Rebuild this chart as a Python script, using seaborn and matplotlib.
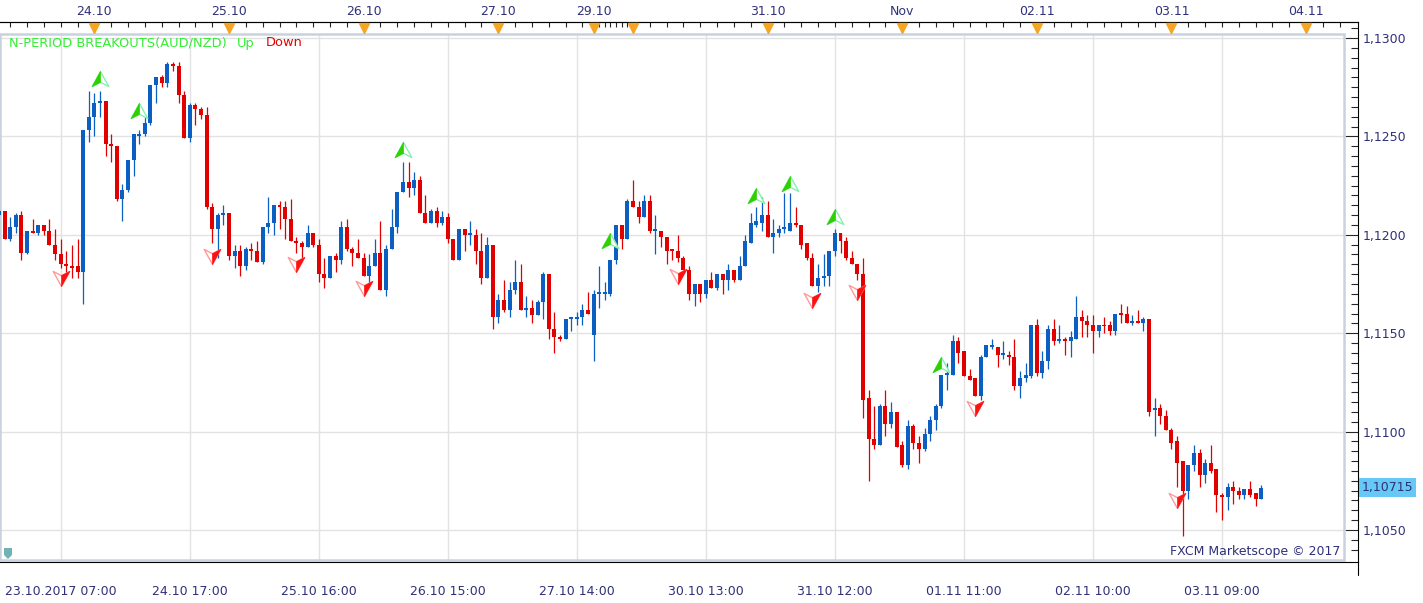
import numpy as np
import pandas as pd
import matplotlib.pyplot as plt
import seaborn as sns
from matplotlib.path import Path
from matplotlib.patches import Rectangle, Polygon
from matplotlib.lines import Line2D
from matplotlib.ticker import FixedLocator
from matplotlib.transforms import blended_transform_factory

sns.set_style('white')
plt.rcParams['font.family'] = ['DejaVu Sans']

# AUD/NZD hourly candles (index 0 = leftmost bar)
opens = [
    1.1210, 1.1212, 1.1198, 1.1204, 1.1210, 1.1191, 1.1202, 1.1201, 1.1205, 1.1202,
    1.1195, 1.1190, 1.1185, 1.1184, 1.1184, 1.1181, 1.1253, 1.1260, 1.1267, 1.1268,
    1.1246, 1.1245, 1.1218, 1.1223, 1.1238, 1.1250, 1.1251, 1.1257, 1.1276, 1.1280,
    1.1277, 1.1287, 1.1286, 1.1271, 1.1249, 1.1266, 1.1264, 1.1261, 1.1214, 1.1203,
    1.1210, 1.1211, 1.1189, 1.1192, 1.1184, 1.1193, 1.1192, 1.1186, 1.1204, 1.1206,
    1.1215, 1.1214, 1.1208, 1.1197, 1.1196, 1.1194, 1.1201, 1.1195, 1.1180, 1.1178,
    1.1189, 1.1187, 1.1204, 1.1193, 1.1191, 1.1188, 1.1179, 1.1184, 1.1191, 1.1172,
    1.1193, 1.1204, 1.1222, 1.1227, 1.1224, 1.1228, 1.1211, 1.1206, 1.1212, 1.1206,
    1.1209, 1.1198, 1.1187, 1.1203, 1.1200, 1.1200, 1.1192, 1.1178, 1.1195, 1.1158,
    1.1167, 1.1162, 1.1172, 1.1176, 1.1162, 1.1163, 1.1159, 1.1166, 1.1180, 1.1152,
    1.1148, 1.1147, 1.1157, 1.1157, 1.1158, 1.1162, 1.1149, 1.1170, 1.1170, 1.1170,
    1.1187, 1.1205, 1.1198, 1.1217, 1.1214, 1.1209, 1.1217, 1.1202, 1.1202, 1.1199,
    1.1193, 1.1192, 1.1188, 1.1182, 1.1170, 1.1175, 1.1170, 1.1177, 1.1173, 1.1180,
    1.1177, 1.1182, 1.1177, 1.1184, 1.1196, 1.1205, 1.1206, 1.1210, 1.1199, 1.1201,
    1.1203, 1.1202, 1.1206, 1.1205, 1.1196, 1.1188, 1.1174, 1.1178, 1.1179, 1.1192,
    1.1201, 1.1197, 1.1188, 1.1185, 1.1180, 1.1117, 1.1096, 1.1093, 1.1113, 1.1104,
    1.1110, 1.1093, 1.1083, 1.1103, 1.1094, 1.1091, 1.1099, 1.1106, 1.1113, 1.1129,
    1.1129, 1.1146, 1.1141, 1.1128, 1.1127, 1.1118, 1.1138, 1.1143, 1.1143, 1.1139,
    1.1139, 1.1138, 1.1123, 1.1127, 1.1128, 1.1154, 1.1130, 1.1136, 1.1152, 1.1146,
    1.1147, 1.1146, 1.1147, 1.1158, 1.1156, 1.1154, 1.1151, 1.1154, 1.1154, 1.1151,
    1.1160, 1.1160, 1.1155, 1.1156, 1.1155, 1.1157, 1.1111, 1.1112, 1.1108, 1.1101,
    1.1095, 1.1085, 1.1070, 1.1083, 1.1089, 1.1078, 1.1084, 1.1081, 1.1068, 1.1067,
    1.1072, 1.1070, 1.1068, 1.1071, 1.1069, 1.1066,
]
highs = [
    1.1213, 1.1212, 1.1209, 1.1211, 1.1212, 1.1202, 1.1208, 1.1205, 1.1205, 1.1208,
    1.1203, 1.1198, 1.1192, 1.1195, 1.1198, 1.1253, 1.1273, 1.1272, 1.1273, 1.1268,
    1.1251, 1.1245, 1.1226, 1.1238, 1.1251, 1.1253, 1.1260, 1.1276, 1.1280, 1.1281,
    1.1288, 1.1288, 1.1288, 1.1273, 1.1267, 1.1267, 1.1265, 1.1265, 1.1216, 1.1211,
    1.1215, 1.1211, 1.1195, 1.1195, 1.1194, 1.1196, 1.1197, 1.1204, 1.1219, 1.1215,
    1.1217, 1.1217, 1.1218, 1.1199, 1.1197, 1.1205, 1.1201, 1.1198, 1.1188, 1.1189,
    1.1191, 1.1207, 1.1208, 1.1194, 1.1198, 1.1191, 1.1190, 1.1198, 1.1207, 1.1195,
    1.1213, 1.1222, 1.1237, 1.1237, 1.1232, 1.1230, 1.1220, 1.1213, 1.1214, 1.1212,
    1.1211, 1.1198, 1.1203, 1.1203, 1.1207, 1.1203, 1.1201, 1.1199, 1.1195, 1.1170,
    1.1177, 1.1176, 1.1187, 1.1185, 1.1169, 1.1167, 1.1167, 1.1181, 1.1180, 1.1161,
    1.1149, 1.1157, 1.1158, 1.1161, 1.1165, 1.1171, 1.1172, 1.1184, 1.1176, 1.1187,
    1.1205, 1.1205, 1.1218, 1.1228, 1.1217, 1.1220, 1.1220, 1.1210, 1.1202, 1.1199,
    1.1193, 1.1200, 1.1189, 1.1184, 1.1175, 1.1175, 1.1177, 1.1181, 1.1180, 1.1180,
    1.1185, 1.1182, 1.1189, 1.1200, 1.1211, 1.1214, 1.1219, 1.1217, 1.1208, 1.1205,
    1.1221, 1.1221, 1.1214, 1.1205, 1.1196, 1.1191, 1.1185, 1.1190, 1.1192, 1.1203,
    1.1201, 1.1199, 1.1192, 1.1185, 1.1188, 1.1121, 1.1113, 1.1114, 1.1121, 1.1115,
    1.1110, 1.1095, 1.1106, 1.1104, 1.1098, 1.1102, 1.1108, 1.1114, 1.1129, 1.1135,
    1.1149, 1.1148, 1.1141, 1.1132, 1.1127, 1.1139, 1.1144, 1.1147, 1.1143, 1.1146,
    1.1141, 1.1147, 1.1131, 1.1135, 1.1154, 1.1157, 1.1141, 1.1154, 1.1157, 1.1154,
    1.1148, 1.1151, 1.1169, 1.1162, 1.1159, 1.1159, 1.1154, 1.1158, 1.1156, 1.1160,
    1.1165, 1.1164, 1.1159, 1.1162, 1.1158, 1.1157, 1.1117, 1.1114, 1.1111, 1.1102,
    1.1098, 1.1085, 1.1083, 1.1093, 1.1091, 1.1086, 1.1093, 1.1081, 1.1069, 1.1074,
    1.1075, 1.1072, 1.1071, 1.1075, 1.1069, 1.1073,
]
lows = [
    1.1209, 1.1198, 1.1197, 1.1201, 1.1187, 1.1190, 1.1201, 1.1200, 1.1200, 1.1195,
    1.1187, 1.1183, 1.1178, 1.1178, 1.1178, 1.1165, 1.1247, 1.1250, 1.1260, 1.1240,
    1.1237, 1.1217, 1.1207, 1.1222, 1.1230, 1.1246, 1.1250, 1.1256, 1.1267, 1.1275,
    1.1275, 1.1283, 1.1267, 1.1249, 1.1247, 1.1256, 1.1259, 1.1213, 1.1196, 1.1188,
    1.1205, 1.1187, 1.1183, 1.1179, 1.1182, 1.1187, 1.1186, 1.1185, 1.1201, 1.1200,
    1.1203, 1.1198, 1.1197, 1.1191, 1.1187, 1.1194, 1.1194, 1.1176, 1.1173, 1.1178,
    1.1181, 1.1185, 1.1192, 1.1184, 1.1188, 1.1179, 1.1175, 1.1184, 1.1172, 1.1169,
    1.1193, 1.1201, 1.1222, 1.1219, 1.1220, 1.1211, 1.1206, 1.1206, 1.1204, 1.1205,
    1.1196, 1.1187, 1.1187, 1.1192, 1.1195, 1.1185, 1.1175, 1.1178, 1.1152, 1.1155,
    1.1161, 1.1158, 1.1170, 1.1162, 1.1158, 1.1155, 1.1159, 1.1157, 1.1147, 1.1140,
    1.1146, 1.1147, 1.1151, 1.1154, 1.1154, 1.1160, 1.1136, 1.1163, 1.1167, 1.1169,
    1.1185, 1.1193, 1.1198, 1.1214, 1.1206, 1.1209, 1.1201, 1.1190, 1.1194, 1.1185,
    1.1187, 1.1186, 1.1182, 1.1167, 1.1164, 1.1166, 1.1168, 1.1173, 1.1172, 1.1170,
    1.1172, 1.1176, 1.1177, 1.1184, 1.1196, 1.1204, 1.1202, 1.1199, 1.1191, 1.1199,
    1.1201, 1.1202, 1.1204, 1.1193, 1.1187, 1.1174, 1.1171, 1.1174, 1.1174, 1.1189,
    1.1191, 1.1187, 1.1185, 1.1177, 1.1107, 1.1075, 1.1091, 1.1093, 1.1098, 1.1102,
    1.1092, 1.1082, 1.1081, 1.1091, 1.1084, 1.1090, 1.1095, 1.1101, 1.1112, 1.1121,
    1.1129, 1.1135, 1.1128, 1.1126, 1.1118, 1.1116, 1.1138, 1.1142, 1.1133, 1.1137,
    1.1134, 1.1121, 1.1117, 1.1125, 1.1127, 1.1128, 1.1127, 1.1132, 1.1144, 1.1145,
    1.1139, 1.1138, 1.1147, 1.1148, 1.1148, 1.1140, 1.1148, 1.1150, 1.1149, 1.1149,
    1.1155, 1.1155, 1.1154, 1.1155, 1.1151, 1.1108, 1.1098, 1.1104, 1.1101, 1.1091,
    1.1072, 1.1047, 1.1066, 1.1080, 1.1072, 1.1074, 1.1079, 1.1059, 1.1055, 1.1060,
    1.1063, 1.1066, 1.1066, 1.1067, 1.1062, 1.1066,
]
closes = [
    1.1212, 1.1198, 1.1204, 1.1210, 1.1191, 1.1202, 1.1201, 1.1205, 1.1202, 1.1195,
    1.1190, 1.1185, 1.1184, 1.1183, 1.1181, 1.1253, 1.1260, 1.1267, 1.1268, 1.1246,
    1.1245, 1.1218, 1.1223, 1.1238, 1.1251, 1.1251, 1.1257, 1.1276, 1.1280, 1.1277,
    1.1287, 1.1286, 1.1271, 1.1249, 1.1266, 1.1264, 1.1261, 1.1214, 1.1203, 1.1210,
    1.1211, 1.1189, 1.1192, 1.1184, 1.1193, 1.1192, 1.1186, 1.1204, 1.1206, 1.1215,
    1.1214, 1.1208, 1.1197, 1.1196, 1.1194, 1.1201, 1.1195, 1.1180, 1.1178, 1.1189,
    1.1187, 1.1204, 1.1193, 1.1191, 1.1188, 1.1179, 1.1184, 1.1191, 1.1172, 1.1193,
    1.1204, 1.1222, 1.1227, 1.1224, 1.1228, 1.1211, 1.1206, 1.1212, 1.1206, 1.1209,
    1.1198, 1.1187, 1.1203, 1.1200, 1.12002, 1.1192, 1.1178, 1.1195, 1.1158, 1.1167,
    1.1162, 1.1172, 1.1176, 1.1162, 1.1163, 1.1159, 1.1166, 1.1180, 1.1152, 1.1148,
    1.1147, 1.1157, 1.1158, 1.1158, 1.1162, 1.1160, 1.1170, 1.11705, 1.1171, 1.1187,
    1.1205, 1.1198, 1.1217, 1.1214, 1.1209, 1.1217, 1.1202, 1.1202, 1.1199, 1.1192,
    1.1192, 1.1188, 1.1182, 1.1170, 1.1175, 1.1170, 1.1177, 1.1173, 1.1180, 1.1177,
    1.1182, 1.1177, 1.1184, 1.1197, 1.1206, 1.1207, 1.1210, 1.1199, 1.1201, 1.1203,
    1.1204, 1.1206, 1.1205, 1.1195, 1.1188, 1.1174, 1.1178, 1.1179, 1.1192, 1.1201,
    1.1197, 1.1188, 1.1185, 1.1180, 1.1116, 1.1096, 1.1093, 1.1113, 1.1104, 1.1110,
    1.1092, 1.1083, 1.1103, 1.1094, 1.1091, 1.1099, 1.1106, 1.1113, 1.1129, 1.11295,
    1.1146, 1.1140, 1.1128, 1.1126, 1.1118, 1.1138, 1.1144, 1.1144, 1.1139, 1.11395,
    1.1138, 1.1123, 1.1127, 1.1129, 1.1154, 1.1130, 1.1136, 1.1152, 1.1146, 1.1147,
    1.1146, 1.1148, 1.1158, 1.1156, 1.1154, 1.1151, 1.1154, 1.11535, 1.1151, 1.1160,
    1.11595, 1.1155, 1.1156, 1.1155, 1.1157, 1.1110, 1.1112, 1.1108, 1.1101, 1.1094,
    1.1084, 1.1070, 1.1083, 1.1089, 1.1078, 1.1084, 1.1080, 1.1068, 1.1067, 1.1072,
    1.1070, 1.1068, 1.1071, 1.1068, 1.1066, 1.10715,
]

# breakout signals: bar index and arrow tip price
up_idx = [18, 25, 72, 109, 135, 141, 149, 168]
up_tip = [1.1283, 1.1267, 1.1247, 1.1201, 1.1224, 1.1230, 1.1213, 1.1138]
down_idx = [11, 38, 53, 65, 121, 145, 153, 174, 210]
down_tip = [1.1174, 1.1185, 1.1181, 1.1169, 1.1175, 1.1163, 1.1167, 1.1108, 1.1061]

# axes
bottom_tick_idx = [11, 34, 57, 80, 103, 126, 149, 172, 195, 218]
bottom_tick_labels = ['23.10.2017 07:00', '24.10 17:00', '25.10 16:00', '26.10 15:00',
                      '27.10 14:00', '30.10 13:00', '31.10 12:00', '01.11 11:00',
                      '02.11 10:00', '03.11 09:00']
day_start_idx = [17, 41, 65, 89, 106, 113, 137, 161, 185, 209, 233]
day_labels = ['24.10', '25.10', '26.10', '27.10', '29.10', '', '31.10', 'Nov',
              '02.11', '03.11', '04.11']
price_ticks = [1.1050, 1.1100, 1.1150, 1.1200, 1.1250, 1.1300]
last_price = 1.10715

df = pd.DataFrame({'open': opens, 'high': highs, 'low': lows, 'close': closes})
df['i'] = np.arange(len(df))
df['up'] = df['close'] >= df['open']

BLUE = '#0b5fc3'
RED = '#e00000'
NAVY = '#30307a'
colors = np.where(df['up'], BLUE, RED)

W, H = 1423, 603
fig = plt.figure(figsize=(W / 100, H / 100), dpi=100)
fig.patch.set_facecolor('white')
# axes box in pixels: x 0..1358, y 22..562
ax = fig.add_axes([0, 1 - 562 / H, 1358 / W, 540 / H])
ax.set_facecolor('white')

# frame (inner plot border) and grid
fr_r = 1344 / 1358
fr_b, fr_t = 2 / 540, 528 / 540
for p in price_ticks:
    ax.axhline(p, xmin=0, xmax=fr_r, color='#e2e2e2', lw=1, zorder=0)
for i in bottom_tick_idx:
    ax.axvline(i, ymin=fr_b, ymax=fr_t, color='#e2e2e2', lw=1, zorder=0)
ax.add_patch(Rectangle((0, fr_b), fr_r, fr_t - fr_b, transform=ax.transAxes,
                       fill=False, edgecolor='#c8d2df', lw=1.8, zorder=1, clip_on=False))

# candles
body = np.maximum((df['close'] - df['open']).abs(), 0.00008)
ax.vlines(df['i'], df['low'], df['high'], colors=colors, lw=0.9, zorder=2)
ax.bar(df['i'], body, bottom=np.minimum(df['open'], df['close']), width=0.71,
       color=colors, linewidth=0, zorder=3)

# breakout arrows
up_full = Path([(0, 0), (-0.55, -1), (0, -0.72), (0.55, -1), (0, 0)], closed=True)
up_half = Path([(0, 0), (-0.55, -1), (0, -0.72), (0, 0)], closed=True)
dn_full = Path([(0, 0), (-0.55, 1), (0, 0.72), (0.55, 1), (0, 0)], closed=True)
dn_half = Path([(0, 0), (0, 0.72), (0.55, 1), (0, 0)], closed=True)
sns.scatterplot(x=up_idx, y=up_tip, marker=up_full, s=470, color='white',
                edgecolor='#86f0b0', linewidth=1, ax=ax, zorder=5)
sns.scatterplot(x=up_idx, y=up_tip, marker=up_half, s=470, color='#2ed000',
                edgecolor='#2ed000', linewidth=0.5, ax=ax, zorder=6)
sns.scatterplot(x=down_idx, y=down_tip, marker=dn_full, s=470, color='white',
                edgecolor='#ff9a9a', linewidth=1, ax=ax, zorder=5)
sns.scatterplot(x=down_idx, y=down_tip, marker=dn_half, s=470, color='#ff1010',
                edgecolor='#ff1010', linewidth=0.5, ax=ax, zorder=6)

ax.set_xlim(1 / 5.61, 1359 / 5.61)
ax.set_ylim(1.103374, 1.130813)
ax.set_xlabel('')
ax.set_ylabel('')

for s in ['top', 'bottom', 'right']:
    ax.spines[s].set_color('black')
    ax.spines[s].set_linewidth(0.8)
ax.spines['left'].set_visible(False)

# right price axis
ax.yaxis.tick_right()
ax.set_yticks(price_ticks, labels=[f'{p:.4f}'.replace('.', ',') for p in price_ticks])
ax.yaxis.set_minor_locator(FixedLocator(np.arange(1.1040, 1.1310, 0.0005)))
ax.tick_params(axis='y', which='major', direction='in', length=9.4, width=0.8,
               pad=3.5, labelsize=9, labelcolor=NAVY, right=True, left=False)
ax.tick_params(axis='y', which='minor', direction='in', length=5.4, width=0.8,
               right=True, left=False)

# bottom time axis
ax.set_xticks(bottom_tick_idx, labels=bottom_tick_labels)
ax.xaxis.set_minor_locator(FixedLocator([i for i in range(2, 242, 3)
                                         if i not in bottom_tick_idx]))
ax.tick_params(axis='x', which='major', direction='out', length=9.4, width=0.8,
               pad=7, labelsize=9, labelcolor=NAVY, top=False)
ax.tick_params(axis='x', which='minor', direction='out', length=4, width=0.8, top=False)

# top day axis
top = ax.secondary_xaxis('top')
top.set_xticks(day_start_idx, labels=day_labels)
top_minor = []
for a, b in zip(day_start_idx[:-1], day_start_idx[1:]):
    step = 1 if b - a < 10 else 3
    top_minor += list(range(a + step, b, step))
top_minor += list(range(2, day_start_idx[0], 3)) + list(range(day_start_idx[-1] + 3, 242, 3))
top.xaxis.set_minor_locator(FixedLocator(top_minor))
top.tick_params(axis='x', which='major', direction='in', length=8, width=0.8,
                pad=3, labelsize=9, labelcolor=NAVY)
top.tick_params(axis='x', which='minor', direction='in', length=3.6, width=0.8)
top.spines['top'].set_linewidth(0.8)

# orange day markers under the top axis
trans = blended_transform_factory(ax.transData, ax.transAxes)
ax.plot(day_start_idx, [(562 - 27.5) / 540] * len(day_start_idx), 'v', ms=7.5,
        color='#f5a524', mec='#f5a524', transform=trans, clip_on=False, zorder=7)

# last price box
ax.text(1362 / 1358, last_price, '1,10715', transform=blended_transform_factory(ax.transAxes, ax.transData),
        ha='left', va='center', fontsize=9, color=NAVY,
        bbox=dict(facecolor='#66c8f5', edgecolor='none', boxstyle='square,pad=0.22'))

# right axis runs a little below the bottom axis
fig.add_artist(Line2D([1358 / W, 1358 / W], [1 - 562 / H, 1 - 575 / H], color='black', lw=0.8))

# indicator caption
fig.text(9 / W, 1 - 43 / H, 'N-PERIOD BREAKOUTS(AUD/NZD)', color='#33ee33', fontsize=9.4, va='center')
fig.text(237 / W, 1 - 43 / H, 'Up', color='#33ee33', fontsize=9.4, va='center')
fig.text(266 / W, 1 - 43 / H, 'Down', color='#ee0000', fontsize=9.4, va='center')

fig.text(1340 / W, 1 - 551 / H, 'FXCM Marketscope \u00a9 2017', color=NAVY, fontsize=9,
         ha='right', va='center')

# small teal scroll marker at the bottom left
fig.add_artist(Polygon([(4 / W, 1 - 548 / H), (12 / W, 1 - 548 / H), (12 / W, 1 - 555 / H),
                        (8 / W, 1 - 559 / H), (4 / W, 1 - 555 / H)],
                       closed=True, facecolor='#6fb3b3', edgecolor='none',
                       transform=fig.transFigure))

fig.savefig('out.png', dpi=100)
